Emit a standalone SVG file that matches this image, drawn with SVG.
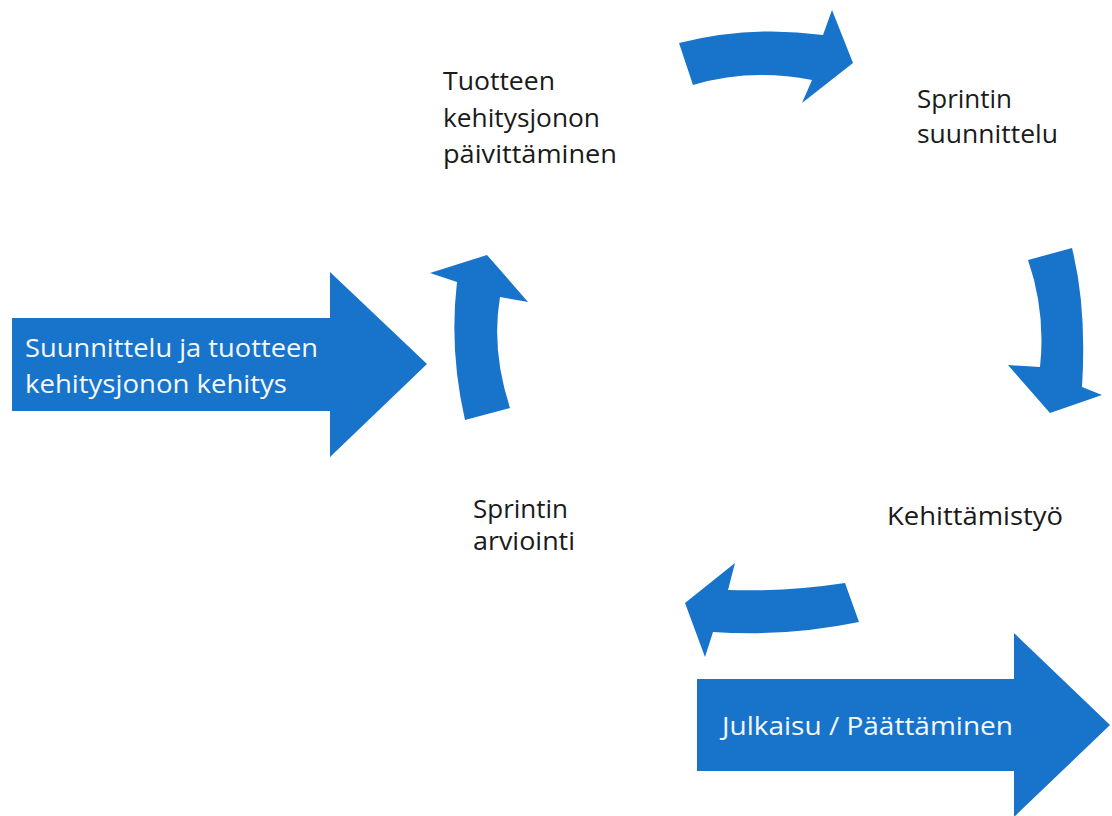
<svg xmlns="http://www.w3.org/2000/svg" width="1112" height="816" viewBox="0 0 1112 816">
<style>
.arrow{fill:#1873CA;}
.lbl{font-family:"Open Sans","Noto Sans",sans-serif;font-size:25px;fill:#1a1a1a;}
.wlbl{font-family:"Open Sans","Noto Sans",sans-serif;font-size:25px;fill:#f4f8ff;}
</style>
<rect width="1112" height="816" fill="#ffffff"/>
<g id="connectors">
<path id="c-top" class="arrow" d="M679,43 Q750,25 823,35 L832,10 L853,63 L802,103 L812,80 Q750,68 693,85 Z"/>
<path id="c-right" class="arrow" d="M1028,260 L1072,248 Q1087,308 1082,387 L1102,395 L1050,413 L1008,365 L1040,367 Q1046,312 1028,260 Z"/>
<path id="c-bottom" class="arrow" d="M845,583 Q786,592 728,590 L735,563 L685,603 L705,657 L713,632 Q786,637 859,622 Z"/>
<path id="c-left" class="arrow" d="M465,420 Q449,350 457,282 L430,273 L487,255 L528,302 L500,297 Q491,350 510,408 Z"/>
</g>
<g id="node-start">
<path class="arrow" d="M12,318 L330,318 L330,272 L427,364 L330,457 L330,411 L12,411 Z"/>
<text class="wlbl" x="25" y="357" textLength="293" lengthAdjust="spacingAndGlyphs">Suunnittelu ja tuotteen</text>
<text class="wlbl" x="25" y="393" textLength="262" lengthAdjust="spacingAndGlyphs">kehitysjonon kehitys</text>
</g>
<g id="node-end">
<path class="arrow" d="M697,679 L1014,679 L1014,633 L1110,725 L1014,817 L1014,771 L697,771 Z"/>
<text class="wlbl" x="722" y="735" textLength="291" lengthAdjust="spacingAndGlyphs">Julkaisu / Päättäminen</text>
</g>
<g id="node-backlog">
<text class="lbl" x="443" y="90" textLength="112" lengthAdjust="spacingAndGlyphs">Tuotteen</text>
<text class="lbl" x="443" y="127" textLength="157" lengthAdjust="spacingAndGlyphs">kehitysjonon</text>
<text class="lbl" x="443" y="163" textLength="174" lengthAdjust="spacingAndGlyphs">päivittäminen</text>
</g>
<g id="node-planning">
<text class="lbl" x="917" y="108" textLength="95" lengthAdjust="spacingAndGlyphs">Sprintin</text>
<text class="lbl" x="917" y="143" textLength="141" lengthAdjust="spacingAndGlyphs">suunnittelu</text>
</g>
<g id="node-dev">
<text class="lbl" x="887" y="525" textLength="176" lengthAdjust="spacingAndGlyphs">Kehittämistyö</text>
</g>
<g id="node-review">
<text class="lbl" x="473" y="518" textLength="95" lengthAdjust="spacingAndGlyphs">Sprintin</text>
<text class="lbl" x="473" y="550" textLength="102" lengthAdjust="spacingAndGlyphs">arviointi</text>
</g>
</svg>
